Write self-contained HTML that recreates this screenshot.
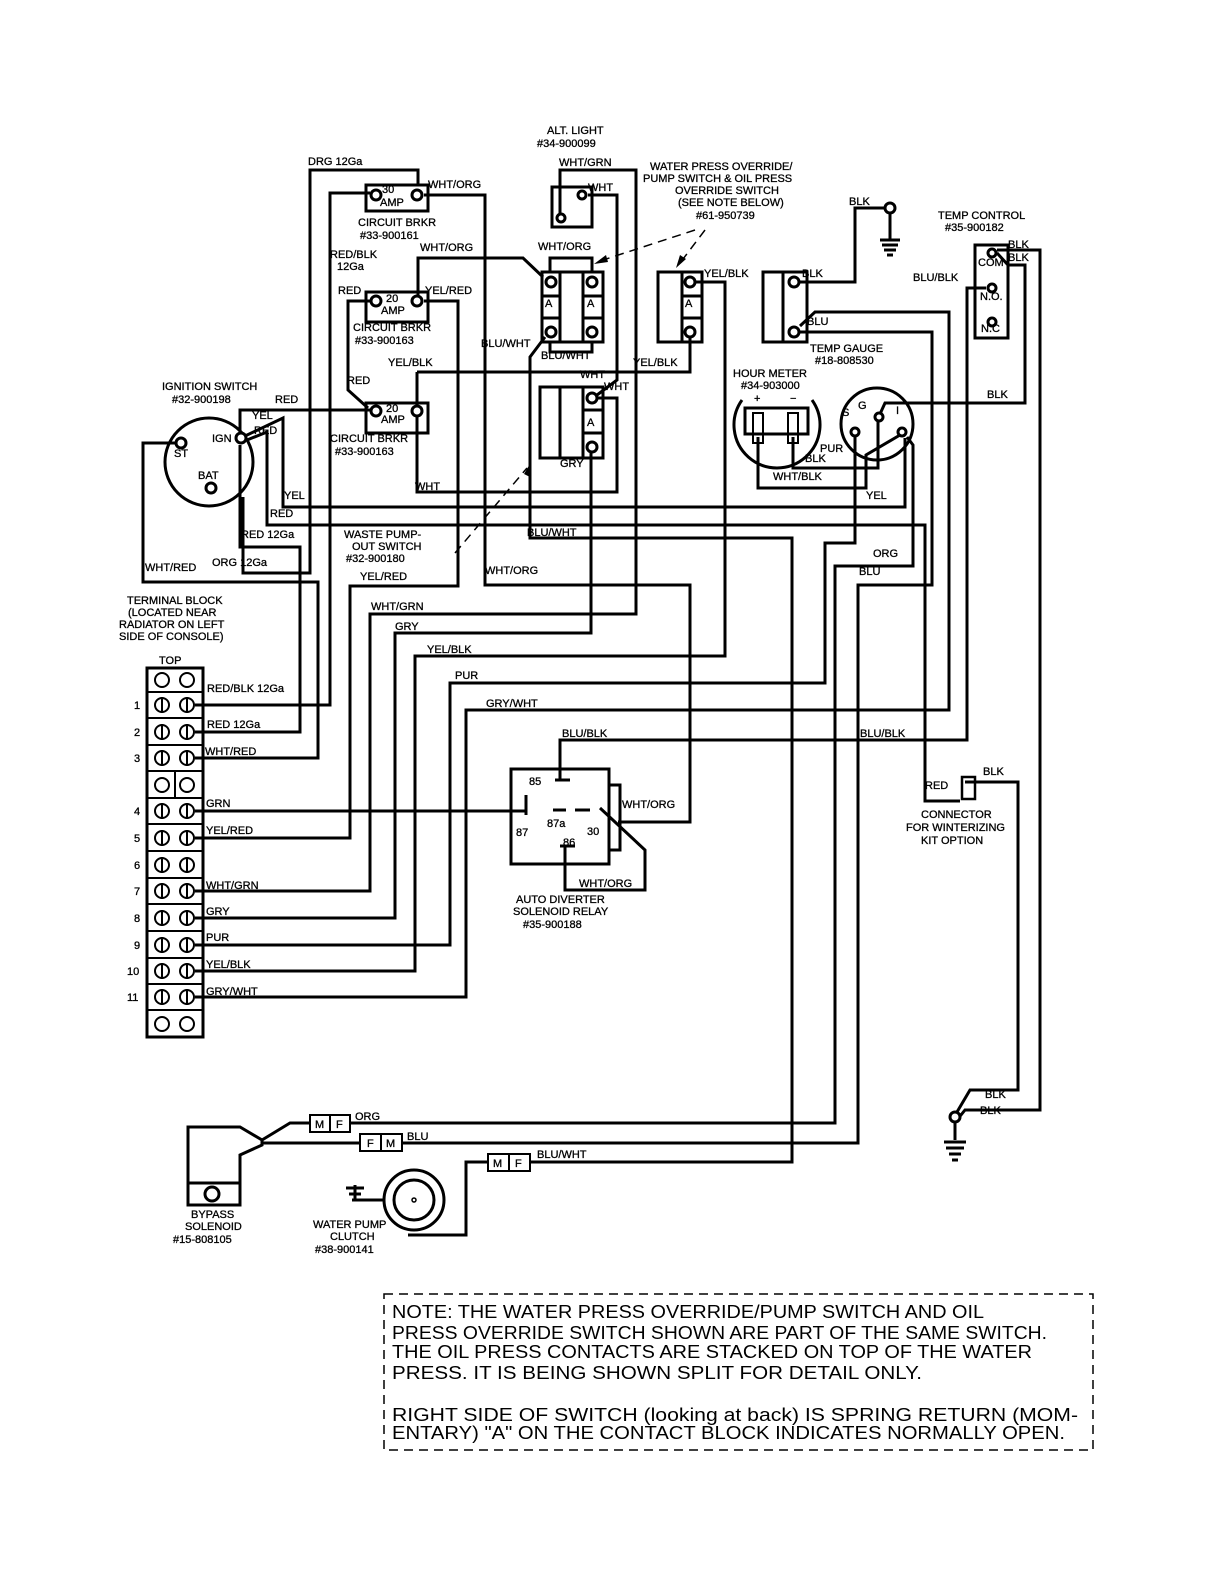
<!DOCTYPE html>
<html><head><meta charset="utf-8"><style>
html,body{margin:0;padding:0;background:#fff}
svg{display:block}
text{font-family:"Liberation Sans",sans-serif;font-size:11px;fill:#000;stroke:#000;stroke-width:0.3}
.n{font-size:18px;stroke-width:0}
</style></head><body>
<svg width="1224" height="1584" viewBox="0 0 1224 1584" xmlns="http://www.w3.org/2000/svg">
<g fill="none" stroke="#000" stroke-width="3" stroke-linejoin="miter">
<polyline points="418,185 418,170 310,170 310,573 243,573 243,497"/>
<polyline points="370,193 330,193 330,705 195,705"/>
<polyline points="240,445 240,547 300,547 300,732 195,732"/>
<polyline points="176,443 143,443 143,582 318,582 318,758 195,758"/>
<polyline points="424,195 485,195 485,585 690,585 690,822 618,822"/>
<polyline points="240,440 240,410 370,410"/>
<polyline points="245,436 283,418 283,507 905,507 905,438"/>
<polyline points="247,440 267,432 267,525 925,525 925,801 960,801"/>
<polyline points="370,301 348,301 348,390 368,408"/>
<polyline points="418,295 418,258 523,258 543,277"/>
<polyline points="424,301 458,301 458,586 350,586 350,838 195,838"/>
<polyline points="417,372 417,492 617,492 617,398 597,398"/>
<polyline points="417,372 690,372 690,338"/>
<polyline points="560,213 560,170 636,170 636,614 370,614 370,891 195,891"/>
<polyline points="588,195 617,195 617,380 597,395"/>
<polyline points="545,337 530,357 530,538 792,538 792,1162 530,1162"/>
<polyline points="488,1162 466,1162 466,1235 408,1235"/>
<polyline points="855,436 855,543 825,543 825,683 450,683 450,945 195,945"/>
<polyline points="591,452 591,633 395,633 395,918 195,918"/>
<polyline points="696,282 725,282 725,656 415,656 415,971 195,971"/>
<polyline points="800,326 815,312 949,312 949,710 466,710 466,997 195,997"/>
<polyline points="986,288 967,288 967,740 560,740 560,780"/>
<polyline points="195,811 526,811"/>
<polyline points="907,437 913,445 913,566 835,566 835,1123 350,1123"/>
<polyline points="310,1123 290,1123 262,1140"/>
<polyline points="800,332 932,332 932,585 858,585 858,1143 402,1143"/>
<polyline points="360,1143 262,1143"/>
<polyline points="800,282 855,282 855,208 890,208"/>
<line x1="890" y1="213" x2="890" y2="240"/>
<polyline points="997,253 1008,265 1025,265 1025,403 885,403 880,414"/>
<polyline points="997,250 1040,250 1040,1110 965,1110 957,1120"/>
<polyline points="975,782 1018,782 1018,1090 970,1090 957,1112"/>
<polyline points="758,437 758,488 866,488 866,455 900,435"/>
<polyline points="793,437 793,468 878,468 878,420"/>
<polyline points="600,808 645,850 645,890 565,890 565,847"/>
<polyline points="384,1200 355,1200 355,1185"/>
</g>

<g fill="none" stroke="#000" stroke-width="3">
<rect x="366" y="185" width="62" height="26"/>
<rect x="366" y="292" width="62" height="30"/>
<rect x="366" y="403" width="62" height="30"/>
<rect x="552" y="187" width="40" height="40"/>
<rect x="542" y="272" width="61" height="70"/>
<line x1="560" y1="272" x2="560" y2="342"/><line x1="583" y1="272" x2="583" y2="342"/>
<line x1="542" y1="296" x2="560" y2="296"/><line x1="542" y1="318" x2="560" y2="318"/>
<line x1="583" y1="296" x2="603" y2="296"/><line x1="583" y1="318" x2="603" y2="318"/>
<polyline points="550,272 550,258 592,258 592,272"/>
<polyline points="550,342 550,352 592,352 592,342"/>
<rect x="540" y="387" width="63" height="71"/>
<line x1="560" y1="387" x2="560" y2="458"/><line x1="583" y1="387" x2="583" y2="458"/>
<line x1="583" y1="410" x2="603" y2="410"/><line x1="583" y1="433" x2="603" y2="433"/>
<rect x="658" y="272" width="44" height="70"/>
<line x1="682" y1="272" x2="682" y2="342"/>
<line x1="682" y1="296" x2="702" y2="296"/><line x1="682" y1="318" x2="702" y2="318"/>
<rect x="763" y="272" width="44" height="70"/>
<line x1="783" y1="272" x2="783" y2="342"/>
<rect x="975" y="245" width="33" height="93"/>
<circle cx="209" cy="462" r="44"/>
<path d="M742,400 A43,43 0 1 0 812,400"/>
<rect x="745" y="408" width="63" height="26"/>
<rect x="753" y="413" width="10" height="30" stroke-width="2"/>
<rect x="788" y="413" width="10" height="30" stroke-width="2"/>
<circle cx="877" cy="424" r="36"/>
<rect x="511" y="769" width="98" height="95"/>
<rect x="609" y="785" width="11" height="65"/>
<rect x="147" y="668" width="56" height="369"/>
<rect x="962" y="777" width="13" height="22" stroke-width="2.5"/>
<path d="M188,1127 L240,1127 L262,1140 L262,1145 L240,1155 L240,1205 L188,1205 Z"/>
<line x1="188" y1="1183" x2="240" y2="1183"/>
<circle cx="212" cy="1194" r="7"/>
<circle cx="414" cy="1200" r="30"/>
<circle cx="414" cy="1200" r="20"/>
<circle cx="414" cy="1200" r="2" stroke-width="1.5"/>
<rect x="310" y="1115" width="20" height="17" stroke-width="2"/><rect x="330" y="1115" width="20" height="17" stroke-width="2"/>
<rect x="360" y="1134" width="21" height="17" stroke-width="2"/><rect x="381" y="1134" width="21" height="17" stroke-width="2"/>
<rect x="488" y="1154" width="21" height="17" stroke-width="2"/><rect x="509" y="1154" width="21" height="17" stroke-width="2"/>
</g>
<g fill="none" stroke="#000" stroke-width="2">
<line x1="147" y1="692" x2="203" y2="692"/>
<line x1="147" y1="718" x2="203" y2="718"/><line x1="147" y1="745" x2="203" y2="745"/>
<line x1="147" y1="771" x2="203" y2="771"/><line x1="147" y1="798" x2="203" y2="798"/>
<line x1="147" y1="824" x2="203" y2="824"/><line x1="147" y1="851" x2="203" y2="851"/>
<line x1="147" y1="878" x2="203" y2="878"/><line x1="147" y1="904" x2="203" y2="904"/>
<line x1="147" y1="931" x2="203" y2="931"/><line x1="147" y1="958" x2="203" y2="958"/>
<line x1="147" y1="984" x2="203" y2="984"/><line x1="147" y1="1010" x2="203" y2="1010"/>
<line x1="175" y1="771" x2="175" y2="798"/>
<circle cx="162" cy="680" r="7"/><circle cx="187" cy="680" r="7"/>
<circle cx="162" cy="785" r="7"/><circle cx="187" cy="785" r="7"/>
<circle cx="162" cy="1024" r="7"/><circle cx="187" cy="1024" r="7"/>
<g id="r">
<circle cx="162" cy="705" r="7"/><circle cx="187" cy="705" r="7"/>
<line x1="162" y1="697" x2="162" y2="713"/><line x1="187" y1="697" x2="187" y2="713"/>
</g>
<use href="#r" y="27"/><use href="#r" y="53"/>
<use href="#r" y="106"/><use href="#r" y="133"/><use href="#r" y="160"/><use href="#r" y="186"/>
<use href="#r" y="213"/><use href="#r" y="240"/><use href="#r" y="266"/><use href="#r" y="292"/>
</g>
<g fill="#fff" stroke="#000" stroke-width="3">
<circle cx="376" cy="195" r="5"/><circle cx="417" cy="195" r="5"/>
<circle cx="376" cy="301" r="5"/><circle cx="417" cy="301" r="5"/>
<circle cx="376" cy="411" r="5"/><circle cx="417" cy="411" r="5"/>
<circle cx="561" cy="218" r="4"/><circle cx="582" cy="195" r="4"/>
<circle cx="551" cy="282" r="5"/><circle cx="551" cy="332" r="5"/>
<circle cx="592" cy="282" r="5"/><circle cx="592" cy="332" r="5"/>
<circle cx="592" cy="398" r="5"/><circle cx="592" cy="447" r="5"/>
<circle cx="690" cy="282" r="5"/><circle cx="690" cy="332" r="5"/>
<circle cx="794" cy="282" r="5"/><circle cx="794" cy="332" r="5"/>
<circle cx="992" cy="253" r="4"/><circle cx="992" cy="288" r="4"/><circle cx="992" cy="322" r="4"/>
<circle cx="181" cy="443" r="5"/><circle cx="241" cy="438" r="5"/><circle cx="211" cy="488" r="5"/>
<circle cx="855" cy="432" r="4"/><circle cx="879" cy="417" r="4"/><circle cx="902" cy="432" r="4"/>
<circle cx="890" cy="208" r="5"/><circle cx="955" cy="1117" r="5"/>
</g>
<g stroke="#000" stroke-width="3">
<line x1="880" y1="240" x2="900" y2="240"/><line x1="882" y1="245" x2="898" y2="245"/><line x1="884" y1="250" x2="896" y2="250"/><line x1="887" y1="255" x2="893" y2="255"/>
<line x1="955" y1="1122" x2="955" y2="1140"/>
<line x1="944" y1="1142" x2="966" y2="1142"/><line x1="946" y1="1148" x2="964" y2="1148"/><line x1="949" y1="1154" x2="961" y2="1154"/><line x1="952" y1="1160" x2="958" y2="1160"/>
<line x1="346" y1="1188" x2="364" y2="1188"/><line x1="349" y1="1194" x2="361" y2="1194"/><line x1="352" y1="1200" x2="358" y2="1200"/>
<line x1="555" y1="780" x2="570" y2="780"/>
<line x1="526" y1="795" x2="526" y2="815"/>
<line x1="553" y1="810" x2="566" y2="810"/><line x1="575" y1="810" x2="590" y2="810"/>
<line x1="560" y1="846" x2="575" y2="846"/>
<line x1="965" y1="782" x2="978" y2="782"/>
</g>
<g fill="none" stroke="#000" stroke-width="1.5" stroke-dasharray="9,6">
<line x1="695" y1="230" x2="600" y2="261"/>
<line x1="705" y1="230" x2="680" y2="263"/>
<line x1="455" y1="553" x2="527" y2="468"/>
<rect x="384" y="1294" width="709" height="156"/>
</g>
<g fill="#000">
<polygon points="594,264 606,255 608,262"/>
<polygon points="676,268 680,255 686,259"/>
<polygon points="531,462 524,474 530,477"/>
</g>

<g>
<text x="547" y="134">ALT. LIGHT</text><text x="537" y="147">#34-900099</text>
<text x="559" y="166">WHT/GRN</text><text x="588" y="191">WHT</text>
<text x="308" y="165">DRG 12Ga</text>
<text x="382" y="193" font-size="10">30</text><text x="380" y="206" font-size="10">AMP</text>
<text x="428" y="188">WHT/ORG</text>
<text x="358" y="226">CIRCUIT BRKR</text><text x="360" y="239">#33-900161</text>
<text x="330" y="258">RED/BLK</text><text x="337" y="270">12Ga</text>
<text x="420" y="251">WHT/ORG</text>
<text x="338" y="294">RED</text><text x="425" y="294">YEL/RED</text>
<text x="386" y="302" font-size="10">20</text><text x="381" y="314" font-size="10">AMP</text>
<text x="353" y="331">CIRCUIT BRKR</text><text x="355" y="344">#33-900163</text>
<text x="388" y="366">YEL/BLK</text>
<text x="347" y="384">RED</text>
<text x="386" y="412" font-size="10">20</text><text x="381" y="423" font-size="10">AMP</text>
<text x="330" y="442">CIRCUIT BRKR</text><text x="335" y="455">#33-900163</text>
<text x="415" y="490">WHT</text>
<text x="162" y="390">IGNITION SWITCH</text><text x="172" y="403">#32-900198</text>
<text x="275" y="403">RED</text>
<text x="252" y="419">YEL</text><text x="254" y="434">RED</text>
<text x="212" y="442">IGN</text><text x="174" y="457">ST</text><text x="198" y="479">BAT</text>
<text x="284" y="499">YEL</text><text x="270" y="517">RED</text>
<text x="241" y="538">RED 12Ga</text><text x="212" y="566">ORG 12Ga</text>
<text x="145" y="571">WHT/RED</text>
<text x="344" y="538">WASTE PUMP-</text><text x="352" y="550">OUT SWITCH</text><text x="346" y="562">#32-900180</text>
<text x="360" y="580">YEL/RED</text>
<text x="485" y="574">WHT/ORG</text>
<text x="481" y="347">BLU/WHT</text><text x="541" y="359">BLU/WHT</text>
<text x="538" y="250">WHT/ORG</text>
<text x="545" y="307" font-size="12">A</text><text x="587" y="307" font-size="12">A</text>
<text x="580" y="378">WHT</text><text x="604" y="390">WHT</text>
<text x="587" y="426" font-size="12">A</text>
<text x="560" y="467">GRY</text>
<text x="527" y="536">BLU/WHT</text>
<text x="650" y="170">WATER PRESS OVERRIDE/</text><text x="643" y="182">PUMP SWITCH &amp; OIL PRESS</text>
<text x="675" y="194">OVERRIDE SWITCH</text><text x="678" y="206">(SEE NOTE BELOW)</text>
<text x="696" y="219">#61-950739</text>
<text x="704" y="277">YEL/BLK</text><text x="685" y="307" font-size="12">A</text>
<text x="633" y="366">YEL/BLK</text>
<text x="802" y="277">BLK</text><text x="807" y="325">BLU</text>
<text x="849" y="205">BLK</text>
<text x="938" y="219">TEMP CONTROL</text><text x="945" y="231">#35-900182</text>
<text x="1008" y="248">BLK</text><text x="1008" y="261">BLK</text>
<text x="978" y="266" font-size="10">COM</text><text x="913" y="281">BLU/BLK</text>
<text x="980" y="300" font-size="10">N.O.</text><text x="981" y="332" font-size="10">N.C</text>
<text x="810" y="352">TEMP GAUGE</text><text x="815" y="364">#18-808530</text>
<text x="733" y="377">HOUR METER</text><text x="741" y="389">#34-903000</text>
<text x="754" y="402">+</text><text x="790" y="402">−</text>
<text x="842" y="416">S</text><text x="858" y="409">G</text><text x="896" y="414">I</text>
<text x="820" y="452">PUR</text><text x="805" y="462">BLK</text><text x="773" y="480">WHT/BLK</text>
<text x="987" y="398">BLK</text>
<text x="866" y="499">YEL</text>
<text x="873" y="557">ORG</text><text x="859" y="575">BLU</text>
<text x="127" y="604">TERMINAL BLOCK</text><text x="128" y="616">(LOCATED NEAR</text>
<text x="119" y="628">RADIATOR ON LEFT</text><text x="119" y="640">SIDE OF CONSOLE)</text>
<text x="159" y="664" font-size="15">TOP</text>
<text x="371" y="610">WHT/GRN</text><text x="395" y="630">GRY</text>
<text x="427" y="653">YEL/BLK</text><text x="455" y="679">PUR</text>
<text x="486" y="707">GRY/WHT</text>
<text x="562" y="737">BLU/BLK</text><text x="860" y="737">BLU/BLK</text>
<text x="207" y="692">RED/BLK 12Ga</text>
<text x="207" y="728">RED 12Ga</text><text x="205" y="755">WHT/RED</text>
<text x="206" y="807">GRN</text><text x="206" y="834">YEL/RED</text>
<text x="206" y="889">WHT/GRN</text><text x="206" y="915">GRY</text>
<text x="206" y="941">PUR</text><text x="206" y="968">YEL/BLK</text><text x="206" y="995">GRY/WHT</text>
<text x="134" y="709">1</text><text x="134" y="736">2</text><text x="134" y="762">3</text>
<text x="134" y="815">4</text><text x="134" y="842">5</text><text x="134" y="869">6</text>
<text x="134" y="895">7</text><text x="134" y="922">8</text><text x="134" y="949">9</text>
<text x="127" y="975">10</text><text x="127" y="1001">11</text>
<text x="529" y="785" font-size="13">85</text><text x="516" y="836" font-size="13">87</text>
<text x="547" y="827" font-size="13">87a</text><text x="587" y="835" font-size="13">30</text>
<text x="563" y="846" font-size="13">86</text>
<text x="622" y="808">WHT/ORG</text><text x="579" y="887">WHT/ORG</text>
<text x="516" y="903">AUTO DIVERTER</text><text x="513" y="915">SOLENOID RELAY</text><text x="523" y="928">#35-900188</text>
<text x="925" y="789">RED</text><text x="983" y="775">BLK</text>
<text x="921" y="818">CONNECTOR</text><text x="906" y="831">FOR WINTERIZING</text><text x="921" y="844">KIT OPTION</text>
<text x="355" y="1120">ORG</text><text x="407" y="1140">BLU</text><text x="537" y="1158">BLU/WHT</text>
<text x="315" y="1128" font-size="10">M</text><text x="336" y="1128" font-size="10">F</text>
<text x="367" y="1147" font-size="10">F</text><text x="386" y="1147" font-size="10">M</text>
<text x="493" y="1167" font-size="10">M</text><text x="515" y="1167" font-size="10">F</text>
<text x="985" y="1098">BLK</text><text x="980" y="1114">BLK</text>
<text x="191" y="1218">BYPASS</text><text x="185" y="1230">SOLENOID</text><text x="173" y="1243">#15-808105</text>
<text x="313" y="1228">WATER PUMP</text><text x="330" y="1240">CLUTCH</text><text x="315" y="1253">#38-900141</text>
<text class="n" x="392" y="1318" textLength="592" lengthAdjust="spacingAndGlyphs">NOTE:  THE WATER PRESS OVERRIDE/PUMP SWITCH AND OIL</text>
<text class="n" x="392" y="1339" textLength="655" lengthAdjust="spacingAndGlyphs">PRESS OVERRIDE SWITCH SHOWN ARE PART OF THE SAME SWITCH.</text>
<text class="n" x="392" y="1358" textLength="640" lengthAdjust="spacingAndGlyphs">THE OIL PRESS CONTACTS ARE STACKED ON TOP OF THE WATER</text>
<text class="n" x="392" y="1379" textLength="530" lengthAdjust="spacingAndGlyphs">PRESS.  IT IS BEING SHOWN SPLIT FOR DETAIL ONLY.</text>
<text class="n" x="392" y="1421" textLength="686" lengthAdjust="spacingAndGlyphs">RIGHT SIDE OF SWITCH (looking at back) IS SPRING RETURN (MOM-</text>
<text class="n" x="392" y="1439" textLength="673" lengthAdjust="spacingAndGlyphs">ENTARY)   "A" ON THE CONTACT BLOCK INDICATES NORMALLY OPEN.</text>
</g>
</svg>
</body></html>
